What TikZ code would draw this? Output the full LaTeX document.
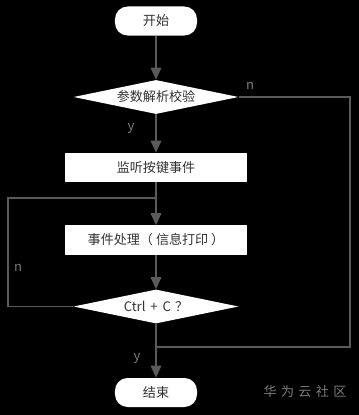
\documentclass[tikz,border=0pt]{standalone}
\usepackage{fontspec}
\setmainfont{Noto Sans CJK SC}
\usetikzlibrary{arrows.meta, positioning, shapes.geometric}

\definecolor{linegray}{HTML}{5A5A5A}
\definecolor{labelgray}{HTML}{7A7A7A}
\definecolor{textdark}{HTML}{333333}

\begin{document}
\begin{tikzpicture}[
    x=0.025cm, y=-0.025cm,
    every node/.style={font=\fontsize{9.3}{11}\selectfont},
    termbox/.style={rectangle, fill=white, text=textdark, minimum width=2.05cm, minimum height=0.725cm, rounded corners=9pt, inner sep=0pt},
    procbox/.style={rectangle, fill=white, text=textdark, minimum width=4.53cm, minimum height=0.725cm, inner sep=0pt},
    decbox/.style={diamond, fill=white, text=textdark, aspect=4.85, minimum width=4.125cm, minimum height=0.85cm, inner sep=0pt},
    arrow/.style={-{Triangle[length=3mm, width=2.6mm]}, linegray, line width=1.4pt},
    link/.style={linegray, line width=1.4pt},
    lbl/.style={text=labelgray}
]

% background
\fill[black] (0,0) rectangle (359,415);

% ============ NODES ============
\node[termbox] (start) at (156,21) {开始};
\node[decbox] (check) at (156,97) {参数解析校验};
\node[procbox] (listen) at (156,167.5) {监听按键事件};
\node[procbox] (handle) at (156,240) {事件处理（ 信息打印 ）};
\node[decbox] (ctrlc) at (156,306.5) {Ctrl\hspace{3.5pt}+\hspace{3.5pt}C\hspace{3pt}？};
\node[termbox] (stop) at (156,392.5) {结束};

% loop corners
\coordinate (rtop) at (350,97);
\coordinate (rbot) at (350,347);
\coordinate (rjoin) at (156,347);
\coordinate (lbot) at (8,306.5);
\coordinate (ltop) at (8,198);
\coordinate (ljoin) at (156,198);

% ============ ARROWS ============
\draw[arrow] (start.south) -- (check.north);
\draw[arrow] (check.south) -- (listen.north);
\draw[arrow] (listen.south) -- (handle.north);
\draw[arrow] (handle.south) -- (ctrlc.north);
\draw[arrow] (ctrlc.south) -- (stop.north);

% n branches
\draw[link] (check.east) -- (rtop) -- (rbot) -- (rjoin);
\draw[link] (ctrlc.west) -- (lbot) -- (ltop) -- (ljoin);

% labels
\node[lbl] (n1) at (250,86) {n};
\node[lbl] (y1) at (131,128) {y};
\node[lbl] (n2) at (18,268) {n};
\node[lbl] (y2) at (137,358) {y};

% watermark
\node[text=labelgray] (mark) at (305,392) {华\,\,为\,\,云\,\,社\,\,区};

\end{tikzpicture}
\end{document}
